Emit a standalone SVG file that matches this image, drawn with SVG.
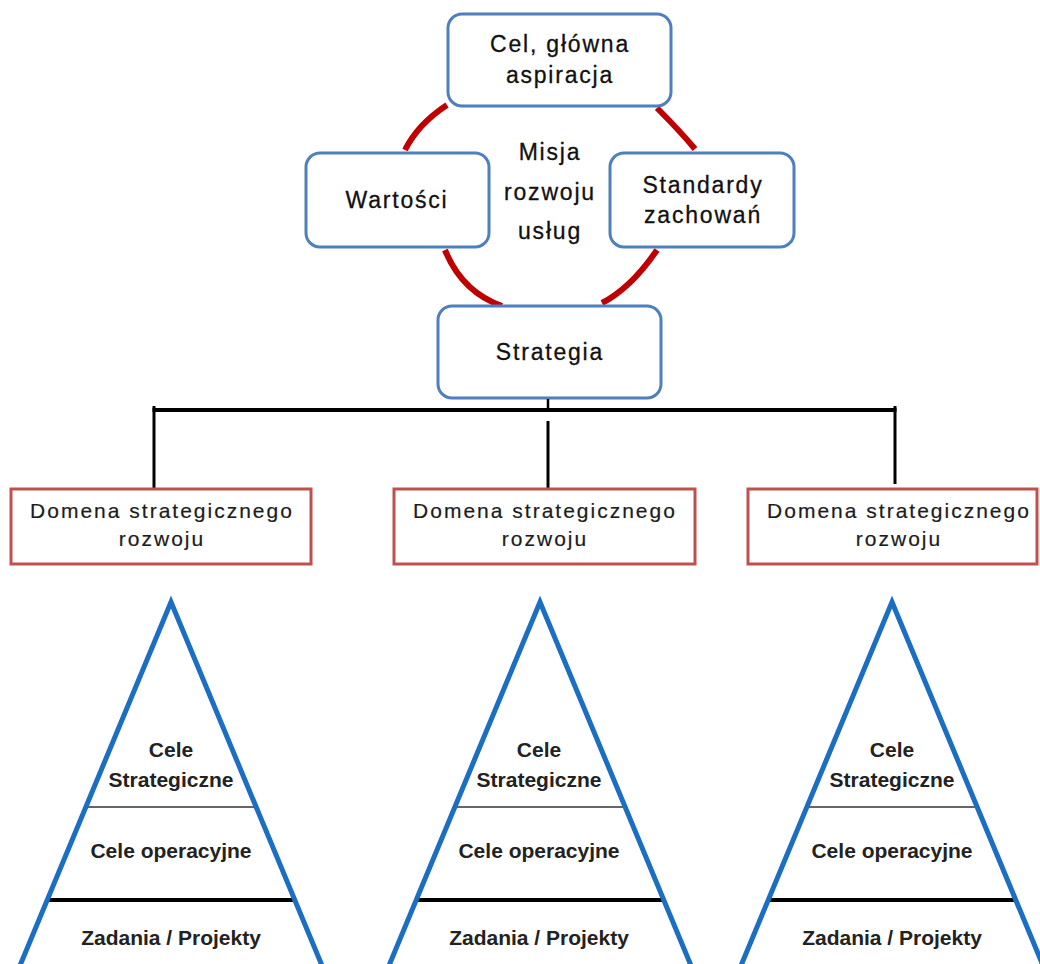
<svg xmlns="http://www.w3.org/2000/svg" width="1040" height="964" viewBox="0 0 1040 964">
<style>
.bg{fill:#ffffff}
.cyc{fill:#ffffff;stroke:#4f7fbd;stroke-width:3}
.arc{fill:none;stroke:#c00000;stroke-width:6}
.dom{fill:#ffffff;stroke:#bf504d;stroke-width:3}
.t1{font-family:"Liberation Sans",Arial,sans-serif;font-size:23px;letter-spacing:1.8px;fill:#111111;stroke:#111111;stroke-width:0.3;text-anchor:middle}
.t2{font-family:"Liberation Sans",Arial,sans-serif;font-size:21px;letter-spacing:2px;fill:#1c1c1c;stroke:#1c1c1c;stroke-width:0.2;text-anchor:middle}
.t3{font-family:"Liberation Sans",Arial,sans-serif;font-size:21px;font-weight:bold;fill:#222222;text-anchor:middle}
.pyr{fill:none;stroke:#1b6ec2;stroke-width:5;stroke-linejoin:miter;stroke-miterlimit:20}
.thin{stroke:#333333;stroke-width:1.6}
.thick{stroke:#000000;stroke-width:4}
.conn{stroke:#000000;fill:none}
</style>
<rect class="bg" x="0" y="0" width="1040" height="964"/>
<g id="cycle-arcs">
<path class="arc" d="M447,105 Q418,124 405,150"/>
<path class="arc" d="M657,108 Q680,131 695,149"/>
<path class="arc" d="M445,250 Q462,292 502,306"/>
<path class="arc" d="M657,250 Q631,288 602,303"/>
</g>
<g id="node-cel">
<rect class="cyc" x="448" y="14" width="223" height="92" rx="14"/>
<text class="t1" x="560" y="52">Cel, główna</text>
<text class="t1" x="560" y="83">aspiracja</text>
</g>
<g id="node-wartosci">
<rect class="cyc" x="306" y="153" width="183" height="94" rx="14"/>
<text class="t1" x="397" y="208">Wartości</text>
</g>
<g id="node-misja">
<text class="t1" x="550" y="160">Misja</text>
<text class="t1" x="550" y="200">rozwoju</text>
<text class="t1" x="550" y="239">usług</text>
</g>
<g id="node-standardy">
<rect class="cyc" x="610" y="153" width="184" height="94" rx="14"/>
<text class="t1" x="703" y="193">Standardy</text>
<text class="t1" x="703" y="223">zachowań</text>
</g>
<g id="node-strategia">
<rect class="cyc" x="438" y="306" width="223" height="92" rx="14"/>
<text class="t1" x="550" y="360">Strategia</text>
</g>
<g id="connectors">
<line class="conn" x1="548" y1="399" x2="548" y2="410" stroke-width="2.5"/>
<line class="conn" x1="152.5" y1="410" x2="896.5" y2="410" stroke-width="4"/>
<line class="conn" x1="154" y1="406" x2="154" y2="489" stroke-width="3"/>
<line class="conn" x1="895" y1="406" x2="895" y2="484" stroke-width="3"/>
<line class="conn" x1="548" y1="421" x2="548" y2="489" stroke-width="3"/>
</g>
<g id="node-domena-1">
<rect class="dom" x="11" y="489" width="300" height="75"/>
<text class="t2" x="162" y="518">Domena strategicznego</text>
<text class="t2" x="162" y="546">rozwoju</text>
</g>
<g id="node-domena-2">
<rect class="dom" x="394" y="489" width="301" height="75"/>
<text class="t2" x="545" y="518">Domena strategicznego</text>
<text class="t2" x="545" y="546">rozwoju</text>
</g>
<g id="node-domena-3">
<rect class="dom" x="748" y="489" width="289" height="75"/>
<text class="t2" x="899" y="518">Domena strategicznego</text>
<text class="t2" x="899" y="546">rozwoju</text>
</g>
<g id="pyramid-1">
<line class="thin" x1="86" y1="807" x2="257" y2="807"/>
<line class="thick" x1="47" y1="900" x2="296" y2="900"/>
<path class="pyr" d="M14,980 L171,602 L328,980"/>
<text class="t3" x="171" y="757">Cele</text>
<text class="t3" x="171" y="787">Strategiczne</text>
<text class="t3" x="171" y="858">Cele operacyjne</text>
<text class="t3" x="171" y="945">Zadania / Projekty</text>
</g>
<g id="pyramid-2">
<line class="thin" x1="455" y1="807" x2="626" y2="807"/>
<line class="thick" x1="415" y1="900" x2="665" y2="900"/>
<path class="pyr" d="M383,980 L540,602 L697,980"/>
<text class="t3" x="539" y="757">Cele</text>
<text class="t3" x="539" y="787">Strategiczne</text>
<text class="t3" x="539" y="858">Cele operacyjne</text>
<text class="t3" x="539" y="945">Zadania / Projekty</text>
</g>
<g id="pyramid-3">
<line class="thin" x1="807" y1="807" x2="978" y2="807"/>
<line class="thick" x1="767" y1="900" x2="1016" y2="900"/>
<path class="pyr" d="M735,980 L892,602 L1049,980"/>
<text class="t3" x="892" y="757">Cele</text>
<text class="t3" x="892" y="787">Strategiczne</text>
<text class="t3" x="892" y="858">Cele operacyjne</text>
<text class="t3" x="892" y="945">Zadania / Projekty</text>
</g>
</svg>
